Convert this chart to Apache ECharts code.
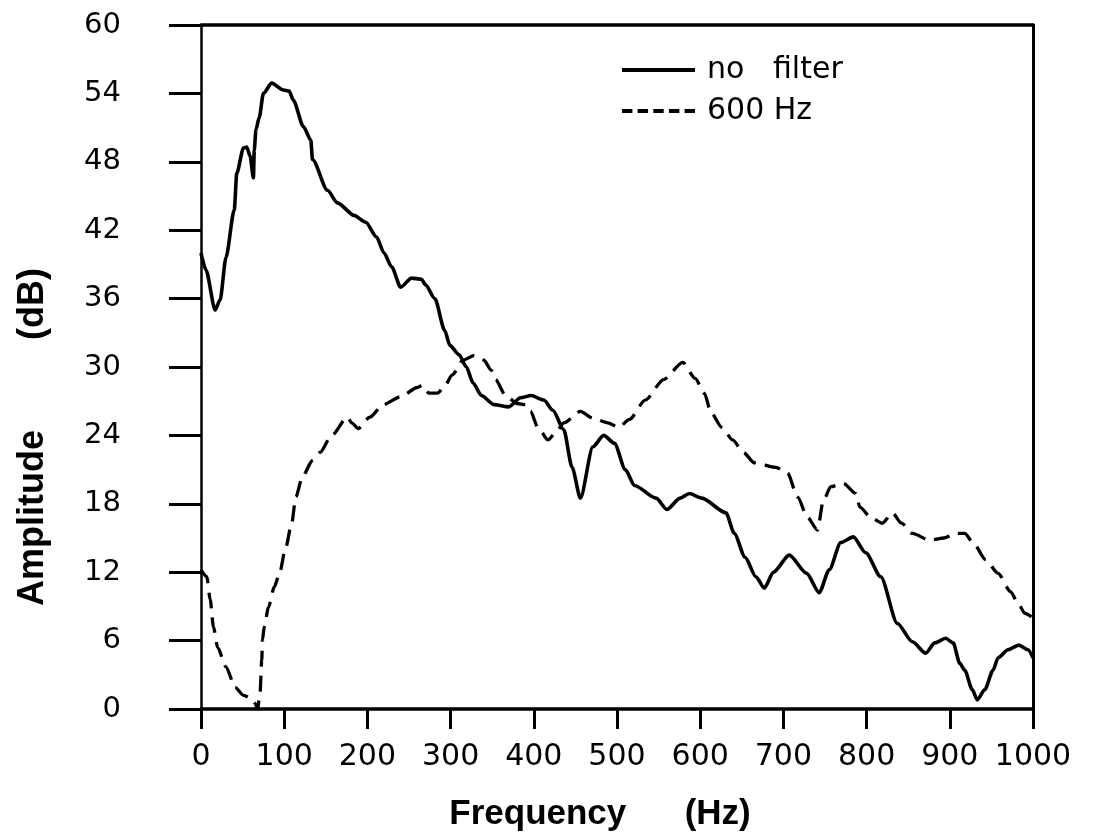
<!DOCTYPE html>
<html>
<head>
<meta charset="utf-8">
<script src="https://cdn.jsdelivr.net/npm/echarts@6/dist/echarts.min.js"></script>
<style>
html,body{margin:0;padding:0;background:#fff;}
#chart{width:1093px;height:837px;}
</style>
</head>
<body>
<div id="chart"></div>
<script>
// ---- data ----
const xTicks = [0, 100, 200, 300, 400, 500, 600, 700, 800, 900, 1000];
const yTicks = [0, 6, 12, 18, 24, 30, 36, 42, 48, 54, 60];

const noFilterFreq = [0,6,17,23,30,40,43,51,55,59,63,64,66,70,75,85,99,106,111,123,132,134,152,164,184,198,211,220,229,240,253,265,270,281,293,299,310,319,327,337,352,370,384,397,412,423,436,446,456,471,484,497,510,521,547,560,576,587,602,631,641,654,667,677,688,707,728,743,755,769,784,799,817,837,855,871,882,895,904,912,918,927,933,942,952,958,970,983,994,1000];
const noFilterDb = [40.0,38.5,35.0,35.9,39.6,43.8,47.0,49.2,49.3,48.5,46.6,49.0,50.8,51.9,54.0,54.9,54.3,54.2,53.4,51.1,49.9,48.2,45.5,44.4,43.3,42.7,41.4,40.0,38.8,37.0,37.8,37.7,37.2,36.0,33.2,31.9,31.1,30.0,28.6,27.5,26.7,26.5,27.3,27.5,27.1,26.2,24.5,21.2,18.5,23.0,24.0,23.3,21.0,19.6,18.5,17.5,18.5,18.9,18.5,17.2,15.4,13.3,11.6,10.6,12.0,13.5,11.9,10.2,12.2,14.6,15.1,13.7,11.6,7.5,5.9,4.9,5.8,6.2,5.8,4.0,3.4,1.7,0.8,1.7,3.4,4.5,5.2,5.6,5.2,4.5];

const filterFreq = [0,7,11,15,20,30,41,51,59,65,68,71,73,74,76,81,88,94,102,109,114,122,134,143,157,176,181,189,203,219,240,260,266,274,284,292,302,315,328,340,349,354,366,380,390,396,405,417,427,436,456,471,489,502,515,534,556,579,594,605,613,626,639,652,665,691,705,717,729,741,748,757,772,787,792,805,819,831,842,855,876,893,908,918,928,943,958,973,982,990,1000];
const filterDb = [12.2,11.6,9.6,7.2,5.4,3.7,1.9,1.2,1.0,0.5,0.0,1.4,4.3,6.1,7.2,8.9,10.7,11.8,14.2,16.3,18.6,20.4,21.8,22.5,24.0,25.6,25.1,24.6,25.6,26.7,27.4,28.2,28.4,27.7,27.7,28.2,29.3,30.6,31.0,30.6,29.7,28.9,27.5,26.8,26.7,26.1,24.7,23.6,24.3,25.1,26.1,25.5,25.1,24.7,25.4,27.1,28.9,30.4,29.0,27.7,26.0,24.7,23.6,22.5,21.6,21.2,20.7,18.6,16.8,15.7,18.3,19.5,19.8,18.9,17.7,16.8,16.3,17.2,16.3,15.4,14.8,15.0,15.4,15.4,14.6,13.1,11.9,10.3,9.3,8.4,8.0];

const seriesNames = ['no   filter', '600 Hz'];
const xTitle = 'Frequency      (Hz)';
const yTitle = 'Amplitude         (dB)';

const zip = (a, b) => a.map((v, i) => [v, b[i]]);

const chart = echarts.init(document.getElementById('chart'), null, {renderer: 'canvas'});
const black = '#000';
const tickFont = 'DejaVu Sans';
const titleFont = 'Liberation Sans';
const dashIcon = 'path://M0 0h10v4H0z M15 0h10v4H15z M30 0h10v4H30z M45 0h10v4H45z M60 0h10v4H60z';

chart.setOption({
  animation: false,
  backgroundColor: '#fff',
  grid: {left: 201, right: 60, top: 25, bottom: 128, containLabel: false},
  legend: {
    orient: 'vertical',
    left: 617, top: 50,
    itemWidth: 73, itemHeight: 4, itemGap: 11,
    symbolKeepAspect: false,
    textStyle: {fontFamily: tickFont, fontSize: 30, color: black, padding: [0, 0, 0, 7]},
    data: [
      {name: seriesNames[0], icon: 'rect', itemStyle: {color: black}},
      {name: seriesNames[1], icon: dashIcon, itemStyle: {color: black}}
    ]
  },
  xAxis: [{
    type: 'value', position: 'bottom', min: xTicks[0], max: xTicks[xTicks.length - 1], interval: 100,
    axisLine: {show: true, onZero: false, lineStyle: {color: black, width: 3.5}},
    axisTick: {show: true, inside: false, length: 20, lineStyle: {color: black, width: 3}},
    axisLabel: {margin: 33, fontFamily: tickFont, fontSize: 30, color: black, formatter: v => String(v)},
    splitLine: {show: false},
    name: xTitle, nameLocation: 'middle', nameGap: 88,
    nameTextStyle: {fontFamily: titleFont, fontWeight: 'bold', fontSize: 35, color: black, padding: [0, 34, 0, 0]}
  }, {
    type: 'value', position: 'top', min: 0, max: 1000,
    axisLine: {show: true, onZero: false, lineStyle: {color: black, width: 3.5}},
    axisTick: {show: false}, axisLabel: {show: false}, splitLine: {show: false}
  }],
  yAxis: [{
    type: 'value', position: 'left', min: yTicks[0], max: yTicks[yTicks.length - 1], interval: 6,
    axisLine: {show: true, onZero: false, lineStyle: {color: black, width: 2.5}},
    axisTick: {show: true, inside: false, length: 32, lineStyle: {color: black, width: 3}},
    axisLabel: {margin: 80, fontFamily: tickFont, fontSize: 29, color: black},
    splitLine: {show: false},
    name: yTitle, nameLocation: 'middle', nameGap: 150,
    nameTextStyle: {fontFamily: titleFont, fontWeight: 'bold', fontSize: 36, color: black, padding: [0, 140, 0, 0]}
  }, {
    type: 'value', position: 'right', min: 0, max: 60,
    axisLine: {show: true, onZero: false, lineStyle: {color: black, width: 3}},
    axisTick: {show: false}, axisLabel: {show: false}, splitLine: {show: false}
  }],
  series: [{
    name: seriesNames[0], type: 'line', xAxisIndex: 0, yAxisIndex: 0,
    data: zip(noFilterFreq, noFilterDb),
    symbol: 'none', smooth: 0.25, smoothMonotone: 'x',
    lineStyle: {color: black, width: 3.6, type: 'solid'},
    itemStyle: {color: black}
  }, {
    name: seriesNames[1], type: 'line', xAxisIndex: 0, yAxisIndex: 0,
    data: zip(filterFreq, filterDb),
    symbol: 'none', smooth: 0.25, smoothMonotone: 'x',
    lineStyle: {color: black, width: 3.3, type: [16, 9]},
    itemStyle: {color: black}
  }]
});
</script>
</body>
</html>
